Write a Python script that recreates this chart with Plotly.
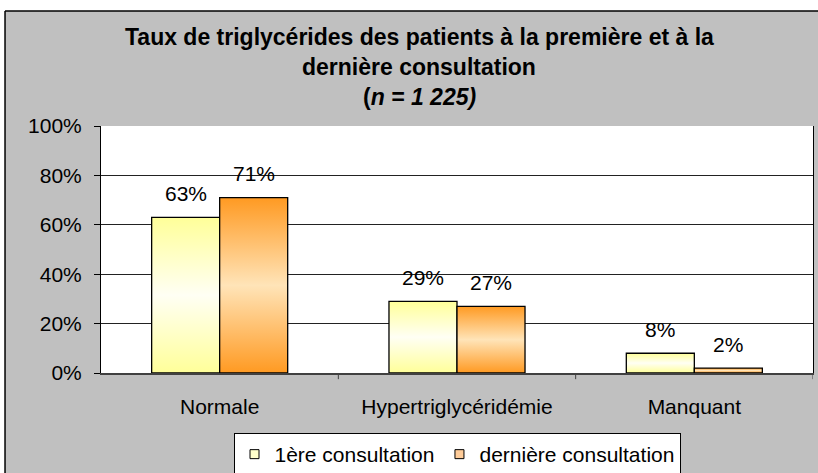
import plotly.graph_objects as go

categories = ["Normale", "Hypertriglycéridémie", "Manquant"]
series_names = ["1ère consultation", "dernière consultation"]
first_consult = [63, 29, 8]
last_consult = [71, 27, 2]
y_ticks = [0, 20, 40, 60, 80, 100]
y_ticklabels = ["0%", "20%", "40%", "60%", "80%", "100%"]

FONT = "Arial, Liberation Sans, sans-serif"
edge_cols = ["#FFFF99", "#FF9A22"]
mid_cols = ["#FFFFF4", "#FFE4B8"]
legend_cols = ["#FFFFCC", "#FFCC99"]

fig = go.Figure()
bw = 0.2866
for i, vals in enumerate([first_consult, last_consult]):
    for j, v in enumerate(vals):
        x0 = j - bw + i * bw
        x1 = x0 + bw
        fig.add_trace(go.Scatter(
            x=[x0, x0, x1, x1, x0], y=[0, v, v, 0, 0],
            mode="lines", fill="toself",
            line=dict(color="#000000", width=1.3),
            fillgradient=dict(type="vertical",
                              colorscale=[[0, edge_cols[i]], [0.5, mid_cols[i]], [1, edge_cols[i]]]),
            showlegend=False, hoverinfo="skip"))
        fig.add_annotation(x=j - bw / 2 + i * bw, y=v, text=f"{v}%", showarrow=False,
                           xref="x", yref="y", yanchor="middle", yshift=24,
                           font=dict(family=FONT, size=21, color="#000"))
    fig.add_trace(go.Scatter(
        x=[None], y=[None], mode="markers", name=series_names[i],
        marker=dict(symbol="square", size=9, color=legend_cols[i],
                    line=dict(color="#000", width=1))))

fig.update_layout(
    width=818, height=473,
    margin=dict(l=101, r=5, t=126, b=100, autoexpand=False),
    paper_bgcolor="#C0C0C0", plot_bgcolor="#FFFFFF",
    font=dict(family=FONT, size=21, color="#000"),
    xaxis=dict(range=[-0.5, 2.5], tickvals=[0, 1, 2], ticktext=categories,
               showgrid=False, zeroline=False, showline=True, linecolor="#404040",
               linewidth=2, ticks="", fixedrange=True, ticklabelstandoff=14,
               automargin=False, tickfont=dict(family=FONT, size=21)),
    yaxis=dict(range=[0, 100], tickvals=y_ticks, ticktext=y_ticklabels,
               showgrid=True, gridcolor="#222", gridwidth=1, zeroline=False,
               showline=True, linecolor="#000", linewidth=1, mirror=True,
               ticks="outside", ticklen=6, tickcolor="#000", fixedrange=True,
               ticklabelstandoff=8, automargin=False,
               tickfont=dict(family=FONT, size=21)),
    showlegend=True,
    legend=dict(orientation="h", x=0.5, y=(373 - 433) / 247, xanchor="center", yanchor="top",
                bgcolor="#FFFFFF", bordercolor="#000", borderwidth=1,
                font=dict(family=FONT, size=21), itemwidth=30,
                tracegroupgap=0),
)

# x-axis category boundary ticks
for b in [0.5, 1.5, 2.5]:
    fig.add_shape(type="line", xref="x", yref="paper", x0=b, x1=b, y0=0, y1=-0.025,
                  line=dict(color="#404040", width=1))

# white strips outside the chart border, and the border
fig.add_shape(type="rect", xref="paper", yref="paper", x0=-0.2, x1=1.1, y0=1.4656, y1=1.7,
              fillcolor="#FFFFFF", line=dict(width=0), layer="above")
fig.add_shape(type="rect", xref="paper", yref="paper", x0=-0.2, x1=-0.1348, y0=-0.5, y1=1.7,
              fillcolor="#FFFFFF", line=dict(width=0), layer="above")
fig.add_shape(type="line", xref="paper", yref="paper", x0=-0.1348, x1=1.1, y0=1.4656, y1=1.4656,
              line=dict(color="#000", width=1.5))
fig.add_shape(type="line", xref="paper", yref="paper", x0=-0.1348, x1=-0.1348, y0=-0.5, y1=1.4656,
              line=dict(color="#000", width=1.5))

title_lines = ["<b>Taux de triglycérides des patients à la première et à la</b>",
               "<b>dernière consultation</b>",
               "<b>(<i>n = 1 225)</i></b>"]
for k, t in enumerate(title_lines):
    fig.add_annotation(text=t, xref="paper", yref="paper",
                       x=(419 - 101) / 712, y=(373 - (37 + 30 * k)) / 247,
                       xanchor="center", yanchor="middle", showarrow=False,
                       font=dict(family=FONT, size=23, color="#000"))

fig.write_html("out.html", config={"displayModeBar": False},
               post_script="document.body.style.margin='0';")
